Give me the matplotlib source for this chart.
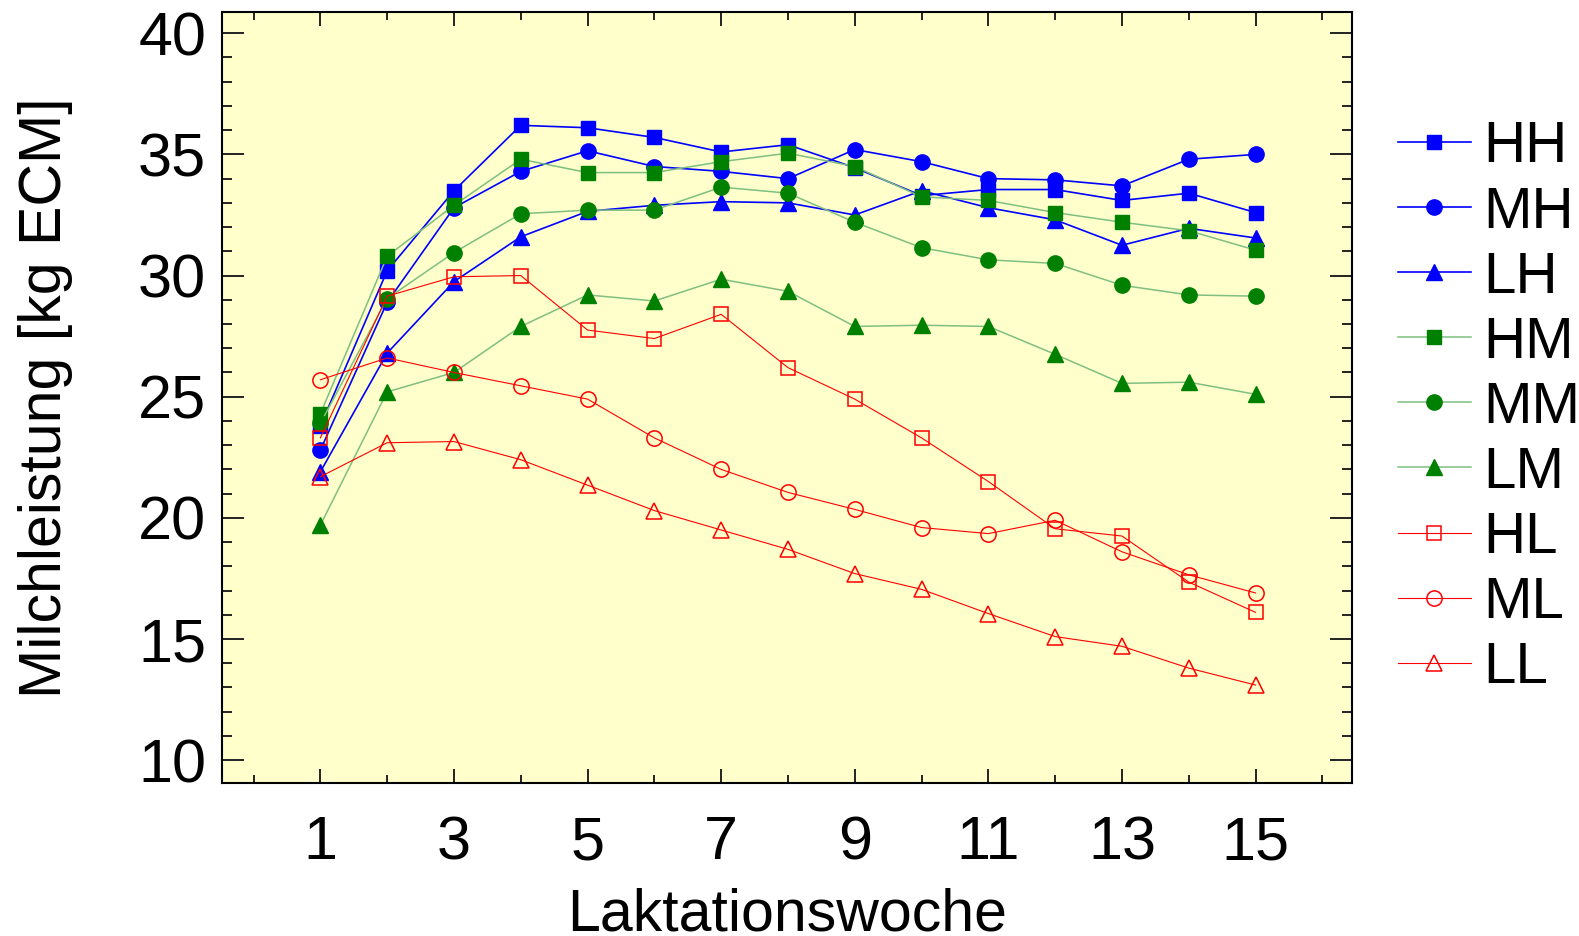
import matplotlib
matplotlib.use('Agg')
import matplotlib.pyplot as plt
from matplotlib.ticker import MultipleLocator, FixedLocator

plt.rcParams['font.family'] = ['Liberation Sans', 'DejaVu Sans']

# Laktationswochen 1..15
weeks = list(range(1, 16))

# Milchleistung je Gruppe [kg ECM]
HH = [23.8, 30.2, 33.5, 36.2, 36.1, 35.7, 35.1, 35.4, 34.45, 33.3, 33.55, 33.55, 33.1, 33.4, 32.6]
MH = [22.8, 28.9, 32.8, 34.3, 35.15, 34.5, 34.3, 34.0, 35.2, 34.7, 34.0, 33.95, 33.7, 34.8, 35.0]
LH = [21.9, 26.8, 29.75, 31.6, 32.65, 32.9, 33.05, 33.0, 32.5, 33.5, 32.8, 32.3, 31.25, 31.95, 31.55]
HM = [24.3, 30.8, 32.9, 34.8, 34.25, 34.25, 34.7, 35.05, 34.5, 33.25, 33.1, 32.6, 32.2, 31.85, 31.05]
MM = [23.9, 29.05, 30.95, 32.55, 32.7, 32.7, 33.65, 33.4, 32.2, 31.15, 30.65, 30.5, 29.6, 29.2, 29.15]
LM = [19.7, 25.2, 26.0, 27.9, 29.2, 28.95, 29.85, 29.35, 27.9, 27.95, 27.9, 26.75, 25.55, 25.6, 25.1]
HL = [23.3, 29.15, 29.95, 30.0, 27.75, 27.4, 28.4, 26.2, 24.9, 23.3, 21.5, 19.55, 19.25, 17.35, 16.1]
ML = [25.7, 26.6, 26.0, 25.45, 24.9, 23.3, 22.0, 21.05, 20.35, 19.6, 19.35, 19.9, 18.6, 17.65, 16.9]
LL = [21.7, 23.1, 23.15, 22.4, 21.35, 20.3, 19.5, 18.7, 17.7, 17.05, 16.05, 15.1, 14.7, 13.8, 13.1]

fig = plt.figure(figsize=(15.79, 9.36), dpi=100)
ax = fig.add_axes([0.1403, 0.163, 0.7162, 0.824])
ax.set_facecolor('#ffffcc')

blue = '#0000ff'
green = '#008000'
green_line = '#7fbf7f'
red = '#ff0000'

ax.plot(weeks, HH, '-s', color=blue, lw=1.2, ms=10, label='HH')
ax.plot(weeks, MH, '-o', color=blue, lw=1.2, ms=11, label='MH')
ax.plot(weeks, LH, '-^', color=blue, lw=1.2, ms=11, label='LH')
ax.plot(weeks, HM, '-s', color=green_line, mfc=green, mec=green, lw=1.1, ms=10, label='HM')
ax.plot(weeks, MM, '-o', color=green_line, mfc=green, mec=green, lw=1.1, ms=11, label='MM')
ax.plot(weeks, LM, '-^', color=green_line, mfc=green, mec=green, lw=1.1, ms=11, label='LM')
ax.plot(weeks, HL, '-s', color=red, mfc='none', mec=red, lw=0.8, mew=1.1, ms=10, label='HL')
ax.plot(weeks, ML, '-o', color=red, mfc='none', mec=red, lw=0.8, mew=1.1, ms=11, label='ML')
ax.plot(weeks, LL, '-^', color=red, mfc='none', mec=red, lw=0.8, mew=1.1, ms=11, label='LL')

ax.set_xlim(-0.48, 16.45)
ax.set_ylim(9.04, 40.87)

ax.xaxis.set_major_locator(FixedLocator([1, 3, 5, 7, 9, 11, 13, 15]))
ax.xaxis.set_minor_locator(MultipleLocator(1))
ax.yaxis.set_major_locator(MultipleLocator(5))
ax.yaxis.set_minor_locator(MultipleLocator(1))

ax.tick_params(axis='both', which='both', direction='in', top=True, right=True,
               width=1.4, color='#222222')
ax.tick_params(axis='x', which='major', length=10, pad=23, labelsize=44)
ax.tick_params(axis='x', which='minor', length=5.5)
ax.tick_params(axis='y', which='major', length=16, pad=11, labelsize=44)
ax.tick_params(axis='y', which='minor', length=7)
for sp in ax.spines.values():
    sp.set_linewidth(1.5)

ax.set_xlabel('Laktationswoche', fontsize=42.5)
ax.xaxis.set_label_coords(0.5, -0.135)
ax.set_ylabel('Milchleistung [kg ECM]', fontsize=42.5)
ax.yaxis.set_label_coords(-0.131, 0.5)

ax.legend(loc='center left', bbox_to_anchor=(1.04, 0.487), frameon=False,
          fontsize=42, handlelength=1.25, handletextpad=0.22, labelspacing=0.19,
          borderpad=0, borderaxespad=0)

fig.savefig('out.png', dpi=100)
